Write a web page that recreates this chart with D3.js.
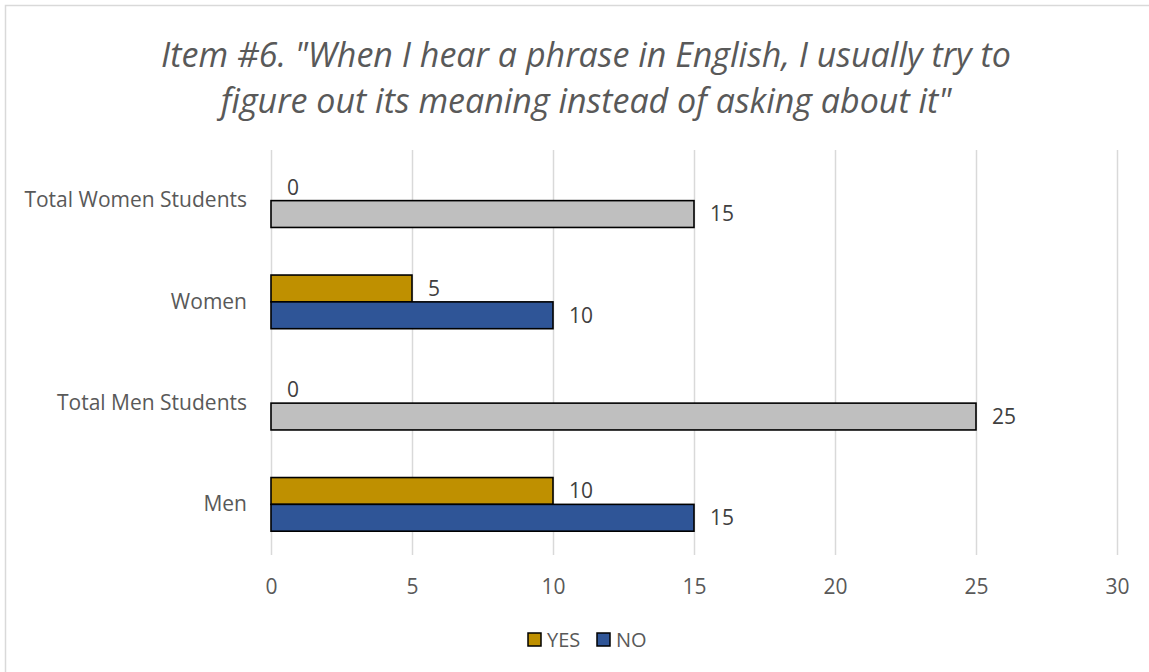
<!DOCTYPE html>
<html>
<head>
<meta charset="utf-8">
<script src="https://cdn.jsdelivr.net/npm/d3@7"></script>
<style>
  html, body { margin: 0; padding: 0; background: #ffffff; }
  svg { display: block; }
</style>
</head>
<body>
<svg id="chart" width="1149" height="672"></svg>
<script>
// Survey item responses, listed bottom to top as they appear on the chart
const categories = ["Men", "Total Men Students", "Women", "Total Women Students"];
const yesValues = [10, 0, 5, 0];
const noValues = [15, 25, 10, 15];
const totalCategories = ["Total Men Students", "Total Women Students"];
const seriesNames = ["YES", "NO"];
const xTicks = [0, 5, 10, 15, 20, 25, 30];
const titleLines = [
  "Item #6. \"When I hear a phrase in English, I usually try to",
  "figure out its meaning instead of asking about it\""
];

const colors = { YES: "#BF9000", NO: "#2F5597", total: "#BFBFBF" };
const font = "'Open Sans', 'Noto Sans', sans-serif";

const svg = d3.select("#chart");
const W = 1149, H = 672;
const plot = { left: 271, right: 1117, top: 150, bottom: 555 };

// Chart frame
svg.append("rect")
  .attr("x", 5.5).attr("y", 5.5)
  .attr("width", W + 20).attr("height", H + 20)
  .attr("fill", "#fff").attr("stroke", "#D9D9D9").attr("stroke-width", 1.5);

// Title
svg.append("g").selectAll("text")
  .data(titleLines)
  .join("text")
  .attr("x", 586)
  .attr("y", (d, i) => 67 + i * 45.7)
  .attr("text-anchor", "middle")
  .attr("font-family", font)
  .attr("font-style", "italic")
  .attr("font-size", 34)
  .attr("fill", "#595959")
  .text(d => d);

const rows = categories.map((c, i) => ({
  category: c,
  YES: yesValues[i],
  NO: noValues[i],
  isTotal: totalCategories.includes(c)
}));

const x = d3.scaleLinear().domain([0, 30]).range([plot.left, plot.right]);
const y = d3.scaleBand()
  .domain(categories.slice().reverse())
  .range([plot.top, plot.bottom])
  .paddingInner(0.47)
  .paddingOuter(0.235);
const ySub = d3.scaleBand().domain(seriesNames).range([0, y.bandwidth()]);

// Vertical gridlines and value axis labels
const xAxis = d3.axisBottom(x).tickValues(xTicks).tickSize(-(plot.bottom - plot.top)).tickPadding(24);
const gx = svg.append("g")
  .attr("transform", `translate(0,${plot.bottom})`)
  .call(xAxis);
gx.select(".domain").remove();
gx.selectAll(".tick line").attr("stroke", "#D9D9D9").attr("stroke-width", 1.5);
gx.selectAll(".tick text")
  .attr("font-family", font).attr("font-size", 21).attr("fill", "#595959")
  .attr("dy", "0.71em");

// Category axis labels
const yAxis = d3.axisLeft(y).tickSize(0).tickPadding(24);
const gy = svg.append("g").attr("transform", `translate(${plot.left},0)`).call(yAxis);
gy.select(".domain").remove();
gy.selectAll(".tick text")
  .attr("font-family", font).attr("font-size", 21).attr("fill", "#595959");

// Bars
const barData = rows.flatMap(r => seriesNames.map(s => ({
  category: r.category, series: s, value: r[s], isTotal: r.isTotal
})));

svg.append("g").selectAll("rect")
  .data(barData.filter(d => d.value > 0))
  .join("rect")
  .attr("x", x(0))
  .attr("y", d => y(d.category) + ySub(d.series))
  .attr("width", d => x(d.value) - x(0))
  .attr("height", ySub.bandwidth())
  .attr("fill", d => d.isTotal ? colors.total : colors[d.series])
  .attr("stroke", "#000")
  .attr("stroke-width", 1.6);

// Value labels
svg.append("g").selectAll("text")
  .data(barData)
  .join("text")
  .attr("x", d => x(d.value) + 16)
  .attr("y", d => y(d.category) + ySub(d.series) + ySub.bandwidth() / 2)
  .attr("dy", "0.35em")
  .attr("font-family", font).attr("font-size", 21).attr("fill", "#404040")
  .text(d => d.value);

// Legend
const legendItems = [{ name: "YES", x: 528 }, { name: "NO", x: 597 }];
const li = svg.append("g").selectAll("g").data(legendItems).join("g")
  .attr("transform", d => `translate(${d.x},633)`);
li.append("rect")
  .attr("width", 13).attr("height", 13)
  .attr("fill", d => colors[d.name])
  .attr("stroke", "#000").attr("stroke-width", 1.5);
li.append("text")
  .attr("x", 19).attr("y", 6.5).attr("dy", "0.35em")
  .attr("font-family", font).attr("font-size", 20).attr("fill", "#595959")
  .text(d => d.name);
</script>
</body>
</html>
